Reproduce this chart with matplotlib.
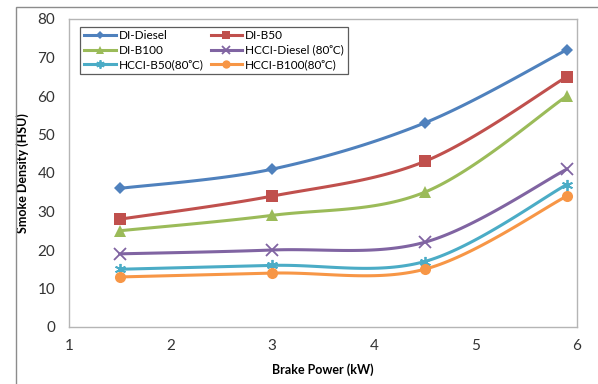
import numpy as np
import matplotlib
matplotlib.use('Agg')
import matplotlib.pyplot as plt
from matplotlib.patches import Rectangle

plt.rcParams['font.family'] = ['Lato', 'DejaVu Sans']

# brake power (kW) and smoke density (HSU) per mode/fuel
brake_power = [1.5, 3.0, 4.5, 5.9]
di_diesel = [36, 41, 53, 72]
di_b50 = [28, 34, 43, 65]
di_b100 = [25, 29, 35, 60]
hcci_diesel = [19, 20, 22, 41]
hcci_b50 = [15, 16, 17, 37]
hcci_b100 = [13, 14, 15, 34]

SERIES = [
    ('DI-Diesel', di_diesel, '#4F81BD', 'D', 6),
    ('DI-B50', di_b50, '#C0504D', 's', 8),
    ('DI-B100', di_b100, '#9BBB59', '^', 8),
    ('HCCI-Diesel (80ᵒC)', hcci_diesel, '#8064A2', 'x', 8),
    ('HCCI-B50(80ᵒC)', hcci_b50, '#4BACC6', (6, 2, 0), 8),
    ('HCCI-B100(80ᵒC)', hcci_b100, '#F79646', 'o', 8),
]


def smooth(xs, ys, n=40):
    # Catmull-Rom style bezier through the points (like spreadsheet smoothed lines)
    p = np.column_stack([xs, ys]).astype(float)
    p = np.vstack([p[0], p, p[-1]])
    out = []
    for i in range(1, len(p) - 2):
        p0, p1, p2, p3 = p[i - 1], p[i], p[i + 1], p[i + 2]
        c1 = p1 + (p2 - p0) / 6
        c2 = p2 - (p3 - p1) / 6
        t = np.linspace(0, 1, n)[:, None]
        seg = ((1 - t) ** 3 * p1 + 3 * (1 - t) ** 2 * t * c1
               + 3 * (1 - t) * t ** 2 * c2 + t ** 3 * p2)
        out.append(seg if i == 1 else seg[1:])
    out = np.vstack(out)
    return out[:, 0], out[:, 1]


fig = plt.figure(figsize=(5.98, 3.84), dpi=100)
ax = fig.add_axes([69 / 598, 1 - 327 / 384, 508 / 598, 308 / 384])

# outer chart frame
fig.patches.append(Rectangle((16 / 598, -0.1), 1.0, 1.1 - 7 / 384,
                             transform=fig.transFigure, fill=False,
                             edgecolor='#8c8c8c', linewidth=1.0))

handles = []
for label, vals, color, marker, ms in SERIES:
    sx, sy = smooth(brake_power, vals)
    ax.plot(sx, sy, color=color, linewidth=2.2, zorder=2)
    mew = 1.3 if marker in ('x', (6, 2, 0)) else 0
    ax.plot(brake_power, vals, linestyle='none', marker=marker, markersize=ms,
            color=color, markeredgecolor=color, markeredgewidth=mew, zorder=3)
    h, = ax.plot([], [], color=color, linewidth=2.2, marker=marker,
                 markersize=ms * 0.75, markeredgewidth=mew, label=label)
    handles.append(h)

ax.set_xlim(1, 6)
ax.set_ylim(0, 80)
ax.set_xticks(range(1, 7))
ax.set_yticks(range(0, 81, 10))
ax.tick_params(length=0, labelsize=11, colors='#333333')
ax.tick_params(axis='x', pad=9)
ax.tick_params(axis='y', pad=10)
for s in ax.spines.values():
    s.set_color('#b5b5b5')
    s.set_linewidth(1.0)

ax.set_xlabel('Brake Power (kW)', fontsize=9, fontweight='bold', labelpad=7)
ax.set_ylabel('Smoke Density (HSU)', fontsize=9, fontweight='bold', labelpad=6)

# row-wise legend order: two entries per row
order = [0, 2, 4, 1, 3, 5]
leg = ax.legend([handles[i] for i in order], [SERIES[i][0] for i in order],
                loc='upper left', bbox_to_anchor=(0.022, 0.975), ncol=2,
                fontsize=8.5, frameon=True, fancybox=False, handlelength=2.7,
                columnspacing=0.6, handletextpad=0.25, labelspacing=0.3,
                borderpad=0.3, borderaxespad=0)
leg.get_frame().set_edgecolor('#333333')
leg.get_frame().set_linewidth(0.9)

fig.savefig('out.png', dpi=100)
